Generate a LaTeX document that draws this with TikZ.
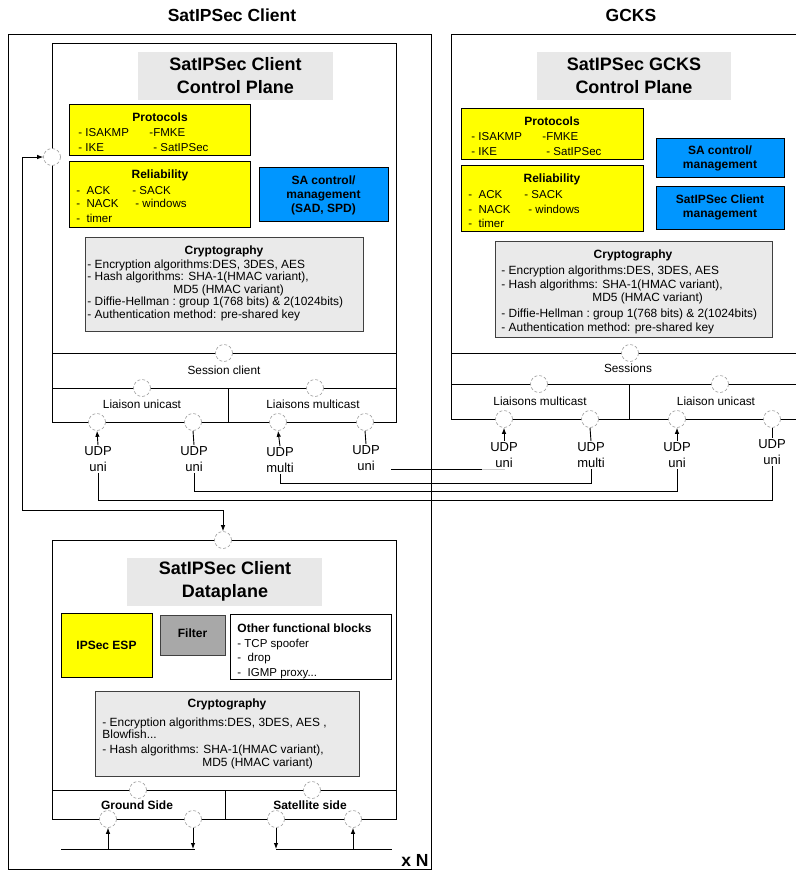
\documentclass[tikz,border=0pt]{standalone}
\usepackage{fontspec}
\setmainfont{Liberation Sans}
\usetikzlibrary{arrows.meta}
\definecolor{sablue}{RGB}{0,150,255}
\definecolor{ttlgray}{RGB}{232,232,232}
\definecolor{crygray}{RGB}{234,234,234}
\definecolor{filtgray}{RGB}{168,168,168}
\definecolor{yel}{RGB}{255,255,0}
\begin{document}
\begin{tikzpicture}[x=1pt,y=-1pt,line width=0.9pt,
  port/.style={circle,minimum size=17pt,inner sep=0pt,fill=white,draw=black!40,line width=0.6pt,dash pattern=on 3pt off 2pt},
  hd/.style={font=\fontsize{17.5}{21}\selectfont\bfseries,inner sep=0pt},
  bigt/.style={font=\fontsize{18}{23}\selectfont\bfseries,align=center,inner sep=0pt},
  bt/.style={font=\fontsize{12}{14}\selectfont\bfseries,align=center,inner sep=0pt},
  it/.style={font=\fontsize{11.5}{13}\selectfont,anchor=west,inner sep=0pt,text height=8pt,text depth=0pt},
  ct/.style={font=\fontsize{11.9}{12}\selectfont,anchor=west,inner sep=0pt,text height=8pt,text depth=0pt},
  lb/.style={font=\fontsize{11.8}{13}\selectfont,inner sep=0pt,text height=8pt,text depth=0pt},
  udp/.style={font=\fontsize{13}{16}\selectfont,align=center,inner sep=1pt},
  arr/.style={-{Latex[length=6pt,width=4.5pt]}},
  boxd/.style={draw=black,line width=0.8pt},
]
\useasboundingbox (0,0) rectangle (796,871);

% headings
\node[hd] (hclient) at (232,15) {SatIPSec Client};
\node[hd] (hgcks) at (631,15) {GCKS};

% ================= CLIENT =================
\draw (8,34) rectangle (431,869);
\node[hd] (xn) at (415,860) {x N};

% control plane box
\draw (52,43) rectangle (396,422);
\draw (52,353) -- (396,353);
\draw (52,388) -- (396,388);
\draw (228,388) -- (228,422);

\fill[ttlgray] (138,52) rectangle (333,100);
\node[bigt] (cpt) at (235.5,75.5) {SatIPSec Client\\Control Plane};

\draw[boxd,fill=yel] (69,104) rectangle (250,155);
\node[bt] (cph) at (160,117) {Protocols};
\node[it] (cp1) at (78,132) {- ISAKMP};
\node[it] (cp2) at (149,132) {-FMKE};
\node[it] (cp3) at (78,147) {- IKE};
\node[it] (cp4) at (153,147) {- SatIPSec};

\draw[boxd,fill=yel] (69,161) rectangle (250,227);
\node[bt] (crh) at (160,175) {Reliability};
\node[it] (cr1) at (76,190) {-\ \ ACK};
\node[it] (cr2) at (132,190) {- SACK};
\node[it] (cr3) at (76,203.5) {-\ \ NACK};
\node[it] (cr4) at (135,203.5) {- windows};
\node[it] (cr5) at (76,218) {-\ \ timer};

\draw[boxd,fill=sablue] (259,167) rectangle (388,221);
\node[bt] (csa) at (323.5,195) {SA control/\\management\\(SAD, SPD)};

\draw[draw=black!75,line width=0.8pt,fill=crygray] (85,237) rectangle (363,331);
\node[bt] (cch) at (224,251) {Cryptography};
\node[ct] (cc1) at (87,264) {- Encryption algorithms:DES, 3DES, AES};
\node[ct] (cc2) at (87,276.5) {- Hash algorithms: SHA-1(HMAC variant),};
\node[ct] (cc3) at (173,289) {MD5 (HMAC variant)};
\node[ct] (cc4) at (87,301.5) {- Diffie-Hellman :\ group 1(768 bits) \& 2(1024bits)};
\node[ct] (cc5) at (87,314) {- Authentication method: pre-shared key};

\node[lb] (csl) at (224,370) {Session client};
\node[lb] (clu) at (142,404) {Liaison unicast};
\node[lb] (clm) at (313,404) {Liaisons multicast};

% UDP labels client
\node[udp] (cu1) at (98,459) {UDP\\uni};
\node[udp] (cu2) at (194,459) {UDP\\uni};
\node[udp] (cu3) at (280,460) {UDP\\multi};
\node[udp] (cu4) at (366,458) {UDP\\uni};

% ================= GCKS =================
\draw (796,34) -- (451,34) -- (451,419) -- (796,419);
\draw (451,353) -- (796,353);
\draw (451,384) -- (796,384);
\draw (629,384) -- (629,419);

\fill[ttlgray] (537,52) rectangle (731,100);
\node[bigt] (gpt) at (634,75.5) {SatIPSec GCKS\\Control Plane};

\draw[boxd,fill=yel] (461,108) rectangle (643,159);
\node[bt] (gph) at (552,121) {Protocols};
\node[it] (gp1) at (471,136) {- ISAKMP};
\node[it] (gp2) at (542,136) {-FMKE};
\node[it] (gp3) at (471,151) {- IKE};
\node[it] (gp4) at (546,151) {- SatIPSec};

\draw[boxd,fill=yel] (461,165) rectangle (643,231);
\node[bt] (grh) at (552,179) {Reliability};
\node[it] (gr1) at (468,194) {-\ \ ACK};
\node[it] (gr2) at (524,194) {- SACK};
\node[it] (gr3) at (468,209) {-\ \ NACK};
\node[it] (gr4) at (528,209) {- windows};
\node[it] (gr5) at (468,223) {-\ \ timer};

\draw[boxd,fill=sablue] (656,138) rectangle (784,177);
\node[bt] (gsa) at (720,158) {SA control/\\management};
\draw[boxd,fill=sablue] (656,186) rectangle (784,229);
\node[bt] (gsm) at (720,207.5) {SatIPSec Client\\management};

\draw[draw=black!75,line width=0.8pt,fill=crygray] (495,241) rectangle (772,337);
\node[bt] (gch) at (633,255) {Cryptography};
\node[ct] (gc1) at (501,270) {- Encryption algorithms:DES, 3DES, AES};
\node[ct] (gc2) at (501,284) {- Hash algorithms: SHA-1(HMAC variant),};
\node[ct] (gc3) at (592,297.5) {MD5 (HMAC variant)};
\node[ct] (gc4) at (501,313) {- Diffie-Hellman :\ group 1(768 bits) \& 2(1024bits)};
\node[ct] (gc5) at (501,327) {- Authentication method: pre-shared key};

\node[lb] (gsl) at (628,368) {Sessions};
\node[lb] (glm) at (540,401) {Liaisons multicast};
\node[lb] (glu) at (716,401) {Liaison unicast};

\node[udp] (gu1) at (504,455) {UDP\\uni};
\node[udp] (gu2) at (591,455) {UDP\\multi};
\node[udp] (gu3) at (677,455) {UDP\\uni};
\node[udp] (gu4) at (772,452) {UDP\\uni};

% ================= DATAPLANE =================
\draw (52,540) rectangle (396,819);
\draw (52,790) -- (396,790);
\draw (225,790) -- (225,819);

\fill[ttlgray] (127,558) rectangle (322,606);
\node[bigt] (dpt) at (225,581.5) {SatIPSec Client\\Dataplane};

\draw[boxd,fill=yel] (61,613) rectangle (152,677);
\node[bt] (desp) at (106.5,645) {IPSec ESP};
\draw[draw=black!75,line width=0.8pt,fill=filtgray] (160,615) rectangle (225,655);
\node[bt] (dfil) at (192.5,633.5) {Filter};
\draw[boxd,fill=white] (230,614) rectangle (391,679);
\node[bt,anchor=west,text height=8pt,text depth=0pt] (doh) at (237,628) {Other functional blocks};
\node[it] (do1) at (237,643) {- TCP spoofer};
\node[it] (do2) at (237,657) {-\ \ drop};
\node[it] (do3) at (237,672) {-\ \ IGMP proxy...};

\draw[draw=black!75,line width=0.8pt,fill=crygray] (95,691) rectangle (359,776);
\node[bt] (dch) at (227,704) {Cryptography};
\node[ct] (dc1) at (102,722) {- Encryption algorithms:DES, 3DES, AES ,};
\node[ct] (dc2) at (102,734.5) {Blowfish...};
\node[ct] (dc3) at (102,749.5) {- Hash algorithms: SHA-1(HMAC variant),};
\node[ct] (dc4) at (202,762) {MD5 (HMAC variant)};

\node[bt,text height=8pt,text depth=0pt] (dgs) at (137,805) {Ground Side};
\node[bt,text height=8pt,text depth=0pt] (dss) at (310,805) {Satellite side};

% ================= PORTS =================
\node[port] (csp) at (224,353) {};
\node[port] (clp1) at (142,388) {};
\node[port] (clp2) at (315,388) {};
\node[port] (cb1) at (97,422) {};
\node[port] (cb2) at (193,422) {};
\node[port] (cb3) at (278,422) {};
\node[port] (cb4) at (365,422) {};
\node[port] (lp) at (52,157) {};

\node[port] (gsp) at (630,353) {};
\node[port] (glp1) at (539,384) {};
\node[port] (glp2) at (720,384) {};
\node[port] (gb1) at (504,419) {};
\node[port] (gb2) at (590,419) {};
\node[port] (gb3) at (677,419) {};
\node[port] (gb4) at (772,419) {};

\node[port] (dtop) at (223,540) {};
\node[port] (dmp1) at (138,790) {};
\node[port] (dmp2) at (312,790) {};
\node[port] (db1) at (108,819) {};
\node[port] (db2) at (193,819) {};
\node[port] (db3) at (276,819) {};
\node[port] (db4) at (353,819) {};

% ================= CONNECTORS =================
\draw[arr] (cu1.north) -- (cb1.south);
\draw (cu2.north) -- (cb2.south);
\draw[arr] (cu3.north) -- (cb3.south);
\draw (cu4.north) -- (cb4.south);

\draw[arr] (gu1.north) -- (gb1.south);
\draw (gu2.north) -- (gb2.south);
\draw[arr] (gu3.north) -- (gb3.south);
\draw (gu4.north) -- (gb4.south);

\coordinate (ya) at (0,500);
\coordinate (yb) at (0,491);
\coordinate (yc) at (0,483);
\draw (cu1.south) -- (cu1.south |- ya) -| (gu4.south);
\draw (cu2.south) -- (cu2.south |- yb) -| (gu3.south);
\draw (cu3.south) -- (cu3.south |- yc) -| (gu2.south);

\coordinate (s1) at (391,469);
\coordinate (s2) at (482,469);
\coordinate (s3) at (505,469);
\draw (s1) -- (s2);
\draw[black!20] (s2) -- (s3);

\coordinate (fb) at (22,510);
\draw[{Latex[length=6pt,width=4.5pt]}-{Latex[length=6pt,width=4.5pt]}] (lp.west) -| (fb) -| (dtop.north);

\coordinate (g1) at (61,849);
\coordinate (g2) at (195,849);
\coordinate (g3) at (276,849);
\coordinate (g4) at (392,849);
\draw (g1) -- (g2);
\draw (g3) -- (g4);
\draw[arr] (db1.south |- g1) -- (db1.south);
\draw[arr] (db2.south) -- (db2.south |- g1);
\draw[arr] (db3.south) -- (db3.south |- g1);
\draw[arr] (db4.south |- g1) -- (db4.south);
\end{tikzpicture}
\end{document}
